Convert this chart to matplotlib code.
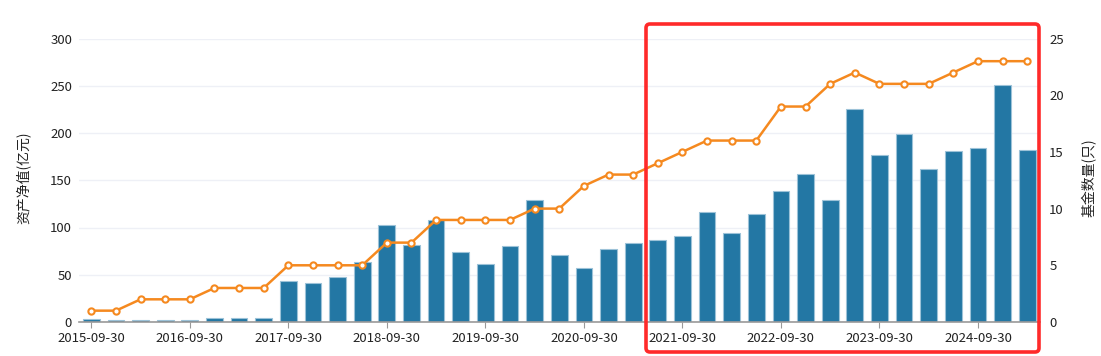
import numpy as np
import pandas as pd
import matplotlib
matplotlib.use("Agg")
import matplotlib.pyplot as plt
from matplotlib.patches import FancyBboxPatch

plt.rcParams['font.family'] = ['Noto Sans CJK SC', 'DejaVu Sans']

# ==========================
# DATA
# ==========================
dates = pd.date_range("2015-09-30", periods=39, freq="QE").strftime("%Y-%m-%d").tolist()

net_assets = [2.8, 1.8, 2.0, 2.0, 1.8, 3.9, 3.9, 3.9, 43.6, 40.8,
              47.1, 63.3, 102.4, 82.0, 108.0, 74.6, 61.9, 80.9, 128.7, 71.4,
              57.0, 77.0, 83.7, 86.5, 91.5, 116.1, 94.6, 114.0, 139.0, 156.2,
              129.4, 225.5, 176.9, 199.4, 161.4, 181.2, 183.9, 250.4, 182.5]

fund_count = [1, 1, 2, 2, 2, 3, 3, 3, 5, 5,
              5, 5, 7, 7, 9, 9, 9, 9, 10, 10,
              12, 13, 13, 14, 15, 16, 16, 16, 19, 19,
              21, 22, 21, 21, 21, 22, 23, 23, 23]

tick_labels = ["2015-09-30", "2016-09-30", "2017-09-30", "2018-09-30", "2019-09-30",
               "2020-09-30", "2021-09-30", "2022-09-30", "2023-09-30", "2024-09-30"]

# ==========================
# PLOT
# ==========================
fig = plt.figure(figsize=(11.01, 3.56), dpi=100)
ax = fig.add_axes([79 / 1101, 34 / 356, 960.5 / 1101, 283.5 / 356])
ax2 = ax.twinx()

x = np.arange(len(dates))

ax.bar(x, net_assets, width=0.68, color="#2377a4", edgecolor="#9cc2d8",
       linewidth=0.8, zorder=2)
ax2.plot(x, fund_count, color="#f5891f", linewidth=1.8, marker="o",
         markersize=4.5, markerfacecolor="white", markeredgecolor="#f5891f",
         markeredgewidth=1.5, zorder=3)

ax.set_xlim(-0.5, len(dates) - 0.5)
ax.set_ylim(0, 300)
ax2.set_ylim(0, 25)
ax.set_yticks(range(0, 301, 50))
ax2.set_yticks(range(0, 26, 5))

tick_pos = [dates.index(t) for t in tick_labels]
ax.set_xticks(tick_pos)
ax.set_xticklabels(tick_labels)

ax.grid(axis="y", color="#eef0f6", linewidth=1, zorder=0)
ax.set_axisbelow(True)

for a in (ax, ax2):
    for s in ("top", "left", "right", "bottom"):
        a.spines[s].set_visible(False)
ax.spines["bottom"].set_visible(True)
ax.spines["bottom"].set_color("#999999")
ax.spines["bottom"].set_linewidth(1.2)

ax.tick_params(axis="x", length=4, color="#999999", labelsize=9.5, pad=3,
               labelcolor="#222222")
ax.tick_params(axis="y", length=0, labelsize=9.5, pad=5, labelcolor="#222222")
ax2.tick_params(axis="y", length=0, labelsize=9.5, pad=7, labelcolor="#222222")

fig.text(23 / 1101, 0.5, "资产净值(亿元)", rotation=90, ha="center", va="center",
         fontsize=10, color="#222222")
fig.text(1089 / 1101, 0.5, "基金数量(只)", rotation=90, ha="center", va="center",
         fontsize=10, color="#222222")

# highlight box
box = FancyBboxPatch((646, 4), 393, 328, boxstyle="round,pad=0,rounding_size=4",
                     transform=None, fill=False, edgecolor="#ff2a2a",
                     linewidth=2.6, zorder=10)
fig.patches.append(box)

fig.savefig("out.png", dpi=100)
